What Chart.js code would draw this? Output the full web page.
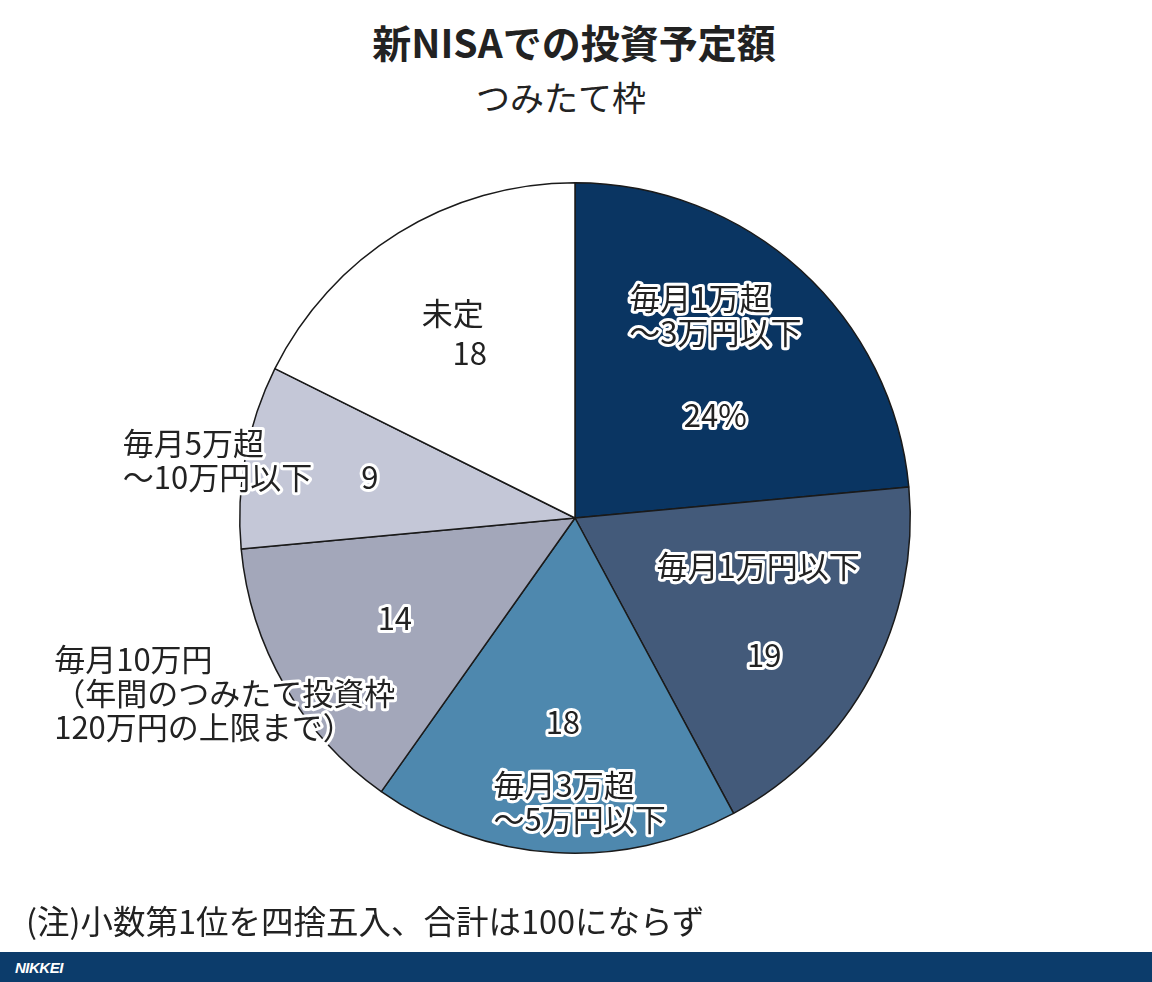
<!DOCTYPE html>
<html lang="ja">
<head>
  <meta charset="utf-8">
  <title>新NISAでの投資予定額</title>
  <style>
    html, body { margin: 0; padding: 0; background: #fff; }
    body { width: 1152px; height: 982px; position: relative; overflow: hidden;
           font-family: "Noto Sans CJK JP", "Noto Sans", sans-serif; color: #222; }
    #wrap { position: absolute; left: 0; top: 0; width: 1152px; height: 982px; }
    .txt { position: absolute; line-height: 1; white-space: nowrap; }
    #title { left: 0; width: 1148px; text-align: center; top: 22px; font-size: 39px; font-weight: 700; }
    #subtitle { left: 0; width: 1122px; text-align: center; top: 80px; font-size: 34px; }
    #note { left: 26px; top: 904px; font-size: 32.5px; }
    #footer { position: absolute; left: 0; top: 952px; width: 1152px; height: 30px; background: #0c3c6b; }
    #footer span { position: absolute; left: 15px; top: 7px; color: #fff; font: italic 700 15px "Liberation Sans", sans-serif; letter-spacing: -0.5px; }
  </style>
</head>
<body>
  <div id="title" class="txt">新NISAでの投資予定額</div>
  <div id="subtitle" class="txt">つみたて枠</div>
  <div id="wrap"><canvas id="myChart" width="1152" height="982"></canvas></div>
  <div id="note" class="txt">(注)小数第1位を四捨五入、合計は100にならず</div>
  <div id="footer"><span>NIKKEI</span></div>

  <script src="https://cdn.jsdelivr.net/npm/chart.js"></script>
  <script>
    // data (percent, clockwise from 12 o'clock)
    const categories = [
      '毎月1万超\n～3万円以下',
      '毎月1万円以下',
      '毎月3万超\n～5万円以下',
      '毎月10万円\n（年間のつみたて投資枠\n120万円の上限まで）',
      '毎月5万超\n～10万円以下',
      '未定'
    ]
    const shares = [24, 19, 18, 14, 9, 18]
    const valueLabels = ['24%', '19', '18', '14', '9', '18']
    const sliceColors = ['#0a3562', '#435a7a', '#4e88ae', '#a3a7ba', '#c4c7d7', '#ffffff']

    // where each text sits: t = fraction along the slice, rf = fraction of radius
    const namePlace = [
      { t: 0.41, rf: 0.735, block: true },
      { t: 0.30, rf: 0.565 },
      { t: 0.43, rf: 0.848, block: true },
      { t: 0.57, rf: 1.168, block: true },
      { t: 0.456, rf: 1.08, block: true },
      { t: 0.515, rf: 0.712 }
    ]
    const valuePlace = [
      { t: 0.634, rf: 0.519 },
      { t: 0.614, rf: 0.697 },
      { t: 0.498, rf: 0.610 },
      { t: 0.518, rf: 0.615 },
      { t: 0.522, rf: 0.624 },
      { t: 0.488, rf: 0.584 }
    ]

    const FONT = '31px "Noto Sans CJK JP", sans-serif'
    const LINE_H = 34

    function drawLines(ctx, lines, x, y, block) {
      ctx.font = FONT
      ctx.textBaseline = 'middle'
      const widths = lines.map(l => ctx.measureText(l).width)
      const maxW = Math.max(...widths)
      const top = y - (lines.length - 1) * LINE_H / 2
      lines.forEach((line, i) => {
        let lx = x, align = 'center'
        if (block) { lx = x - maxW / 2; align = 'left' }
        ctx.textAlign = align
        const ly = top + i * LINE_H
        ctx.lineWidth = 6
        ctx.lineJoin = 'round'
        ctx.strokeStyle = '#ffffff'
        ctx.strokeText(line, lx, ly)
        ctx.fillStyle = '#222222'
        ctx.fillText(line, lx, ly)
      })
    }

    const sliceLabels = {
      id: 'sliceLabels',
      afterDatasetsDraw(chart) {
        const ctx = chart.ctx
        const arcs = chart.getDatasetMeta(0).data
        ctx.save()
        arcs.forEach((arc, i) => {
          const span = arc.endAngle - arc.startAngle
          const spot = (p) => {
            const a = arc.startAngle + p.t * span
            const rr = p.rf * arc.outerRadius
            return [arc.x + Math.cos(a) * rr, arc.y + Math.sin(a) * rr]
          }
          const [vx, vy] = spot(valuePlace[i])
          drawLines(ctx, [valueLabels[i]], vx, vy, false)
          const [nx, ny] = spot(namePlace[i])
          drawLines(ctx, categories[i].split('\n'), nx, ny, namePlace[i].block)
        })
        ctx.restore()
      }
    }

    function renderChart() {
      const ctx = document.getElementById('myChart')
      new Chart(ctx, {
        type: 'pie',
        data: {
          labels: categories,
          datasets: [{
            data: shares,
            backgroundColor: sliceColors,
            borderColor: '#1a1a1a',
            borderWidth: 1.5
          }]
        },
        options: {
          responsive: false,
          animation: false,
          layout: { padding: { left: 239, right: 241, top: 182, bottom: 128 } },
          plugins: {
            legend: { display: false },
            tooltip: { enabled: false }
          }
        },
        plugins: [sliceLabels]
      })
    }
    window.onload = renderChart
  </script>
</body>
</html>
